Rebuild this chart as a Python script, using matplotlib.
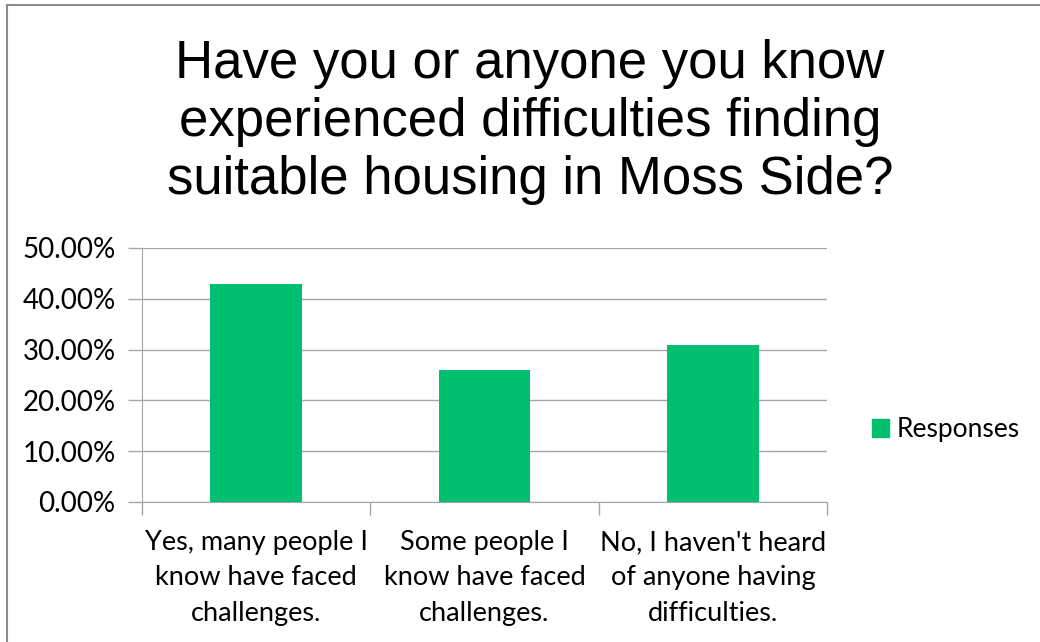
import matplotlib.pyplot as plt
from matplotlib.lines import Line2D
from matplotlib.patches import Patch
from matplotlib.ticker import FuncFormatter

categories = ["Yes, many people I\nknow have faced\nchallenges.",
              "Some people I\nknow have faced\nchallenges.",
              "No, I haven't heard\nof anyone having\ndifficulties."]
values = [0.43, 0.26, 0.31]
yticks = [0.0, 0.1, 0.2, 0.3, 0.4, 0.5]
title = "Have you or anyone you know\nexperienced difficulties finding\nsuitable housing in Moss Side?"

green = '#00BF6F'
grid = '#A6A6A6'
body_font = ['Lato', 'DejaVu Sans']

fig = plt.figure(figsize=(10.4, 6.42), dpi=100)
ax = fig.add_axes([142 / 1040, 1 - 502 / 642, (827 - 142) / 1040, (502 - 248) / 642])

x = range(len(categories))
ax.bar(x, values, width=0.4, color=green, zorder=3)

ax.set_xlim(-0.5, 2.5)
ax.set_ylim(0, 0.5)
ax.set_yticks(yticks)
ax.yaxis.set_major_formatter(FuncFormatter(lambda v, p: f"{v * 100:.2f}%"))
ax.yaxis.grid(True, color=grid, lw=1, zorder=0)
ax.tick_params(axis='y', length=10, color=grid, width=1, pad=9, labelsize=20)
for lab in ax.get_yticklabels():
    lab.set_family(body_font)

ax.set_xticks([-0.5, 0.5, 1.5, 2.5])
ax.set_xticklabels([])
ax.tick_params(axis='x', length=9, color=grid, width=1)
for i, c in enumerate(categories):
    ax.text(i, -0.055, c, ha='center', va='top', fontsize=19.5, family=body_font,
            linespacing=1.52, transform=ax.transData)

for s in ['top', 'right']:
    ax.spines[s].set_visible(False)
ax.spines['left'].set_color(grid)
ax.spines['bottom'].set_color(grid)

fig.text(530 / 1040, 1 - 39 / 642, title, ha='center', va='top', fontsize=38,
         family=['Liberation Sans', 'DejaVu Sans'], linespacing=1.21)

fig.legend(handles=[Patch(color=green, label='Responses')], loc='center left',
           bbox_to_anchor=(848 / 1040, 1 - 430 / 642), frameon=False,
           prop={'family': body_font, 'size': 19}, handlelength=0.65, handleheight=0.65,
           handletextpad=0.3)

# chart frame
fig.add_artist(Line2D([7 / 1040, 1], [1 - 5 / 642, 1 - 5 / 642], color='#8C8C8C', lw=1.5,
                      transform=fig.transFigure))
fig.add_artist(Line2D([7 / 1040, 7 / 1040], [0, 1 - 5 / 642], color='#8C8C8C', lw=1.5,
                      transform=fig.transFigure))

fig.savefig('out.png', dpi=100)
